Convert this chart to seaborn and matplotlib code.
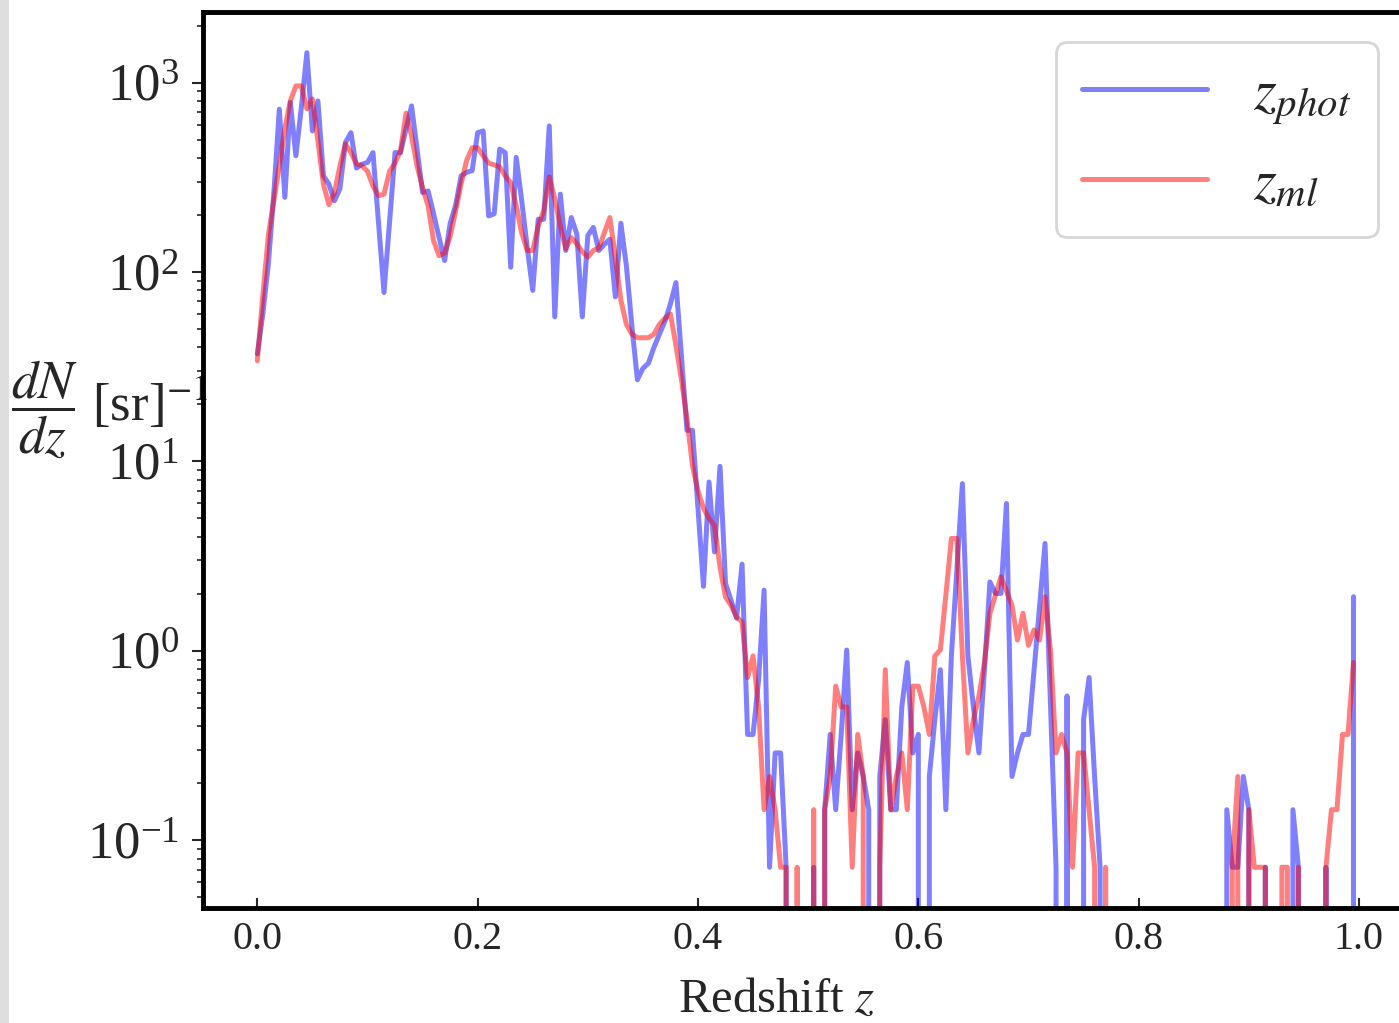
import numpy as np
import pandas as pd
import matplotlib
matplotlib.use("Agg")
import matplotlib.pyplot as plt
from matplotlib.patches import Rectangle
import seaborn as sns

# Bin positions (left edges of 0.005-wide redshift bins)
redshift_bins = [round(0.005 * i, 3) for i in range(200)]

# dN/dz [sr^-1] for the photometric redshifts
dndz_phot = [
    37, 60, 110, 260, 724, 248, 785, 411, 741, 1439,
    556, 801, 322, 291, 238, 275, 483, 544, 354, 371,
    379, 427, 182, 78, 182, 427, 427, 570, 754, 446,
    263, 268, 203, 152, 115, 180, 225, 322, 336, 343,
    544, 556, 198, 203, 446, 427, 106, 403, 238, 135,
    80, 190, 190, 591, 58, 258, 130, 194, 159, 58,
    156, 172, 130, 140, 149, 74, 181, 108, 52, 27,
    31, 33, 40, 47, 55, 68, 88, 36, 14.6, 14.6,
    5.66, 2.19, 7.79, 3.33, 9.42, 2.27, 1.85, 1.49, 2.87, 0.362,
    0.362, 0.70, 2.09, 0.072, 0.289, 0.289, 0.072, 0, 0, 0,
    0, 0.072, 0, 0.145, 0.362, 0.145, 0.362, 1.01, 0.145, 0.289,
    0.217, 0.145, 0, 0.217, 0.434, 0.145, 0.145, 0.506, 0.868, 0.289,
    0.362, 0, 0.217, 0.434, 0.795, 0.145, 0.94, 2.66, 7.64, 0.94,
    0.506, 0.289, 0.795, 2.31, 2.01, 2.01, 6.0, 0.217, 0.289, 0.362,
    0.362, 0.78, 1.70, 3.69, 0.506, 0.072, 0, 0.578, 0, 0,
    0.434, 0.723, 0.217, 0.072, 0, 0, 0, 0, 0, 0,
    0, 0, 0, 0, 0, 0, 0, 0, 0, 0,
    0, 0, 0, 0, 0, 0, 0.145, 0.072, 0.072, 0.217,
    0.145, 0, 0, 0.072, 0, 0, 0, 0, 0.145, 0.072,
    0, 0, 0, 0, 0.072, 0, 0, 0, 0, 1.93,
]

# dN/dz [sr^-1] for the machine-learning redshifts
dndz_ml = [
    34, 75, 156, 238, 364, 570, 801, 961, 961, 727,
    820, 492, 291, 227, 262, 364, 474, 427, 372, 364,
    340, 285, 253, 258, 340, 377, 436, 690, 523, 364,
    279, 224, 146, 122, 126, 154, 210, 292, 388, 453,
    453, 411, 376, 368, 359, 322, 297, 224, 161, 130,
    130, 175, 211, 318, 244, 175, 133, 152, 141, 128,
    120, 130, 134, 161, 194, 120, 71, 53, 47, 45,
    45, 45, 47, 53, 57, 60, 41, 27, 16.8, 9.5,
    7.0, 5.66, 5.0, 4.6, 2.77, 1.92, 1.74, 1.51, 1.42, 0.723,
    0.94, 0.506, 0.145, 0.217, 0.145, 0.072, 0.072, 0, 0.072, 0,
    0, 0.145, 0, 0.145, 0.217, 0.651, 0.506, 0.506, 0.072, 0.362,
    0.217, 0, 0, 0.072, 0.795, 0.145, 0.217, 0.289, 0.145, 0.651,
    0.651, 0.506, 0.362, 0.94, 1.012, 1.97, 3.92, 3.92, 0.94, 0.289,
    0.434, 0.578, 0.868, 1.58, 1.97, 2.46, 2.07, 1.74, 1.14, 1.58,
    1.07, 1.29, 1.14, 1.93, 1.0, 0.289, 0.362, 0.289, 0.072, 0.289,
    0.289, 0.145, 0.072, 0, 0.072, 0, 0, 0, 0, 0,
    0, 0, 0, 0, 0, 0, 0, 0, 0, 0,
    0, 0, 0, 0, 0, 0, 0, 0.072, 0.217, 0,
    0.145, 0.072, 0.072, 0.072, 0, 0, 0.072, 0.072, 0, 0.072,
    0, 0, 0, 0, 0.072, 0.145, 0.145, 0.362, 0.362, 0.868,
]

series_labels = [r"$z_{phot}$", r"$z_{ml}$"]
x_ticks = [0.0, 0.2, 0.4, 0.6, 0.8, 1.0]
x_tick_labels = ["0.0", "0.2", "0.4", "0.6", "0.8", "1.0"]
x_label = r"Redshift $z$"
y_label = r"$\dfrac{dN}{dz}$ [sr]$^{-1}$"

sns.set_style("ticks")
plt.rcParams["font.family"] = ["Liberation Serif", "DejaVu Serif"]
plt.rcParams["mathtext.fontset"] = "stix"

fig = plt.figure(figsize=(13.99, 10.23), dpi=100)
W, H = 1399.0, 1023.0
# light paper-like strip at the far left edge
fig.patches.append(Rectangle((0, 0), 9 / W, 1, transform=fig.transFigure,
                             facecolor="#dedede", edgecolor="none", zorder=0))
ax = fig.add_axes([202.5 / W, (H - 907.5) / H, 1205.8 / W, 895.5 / H])

df = pd.DataFrame({"z": redshift_bins, "phot": dndz_phot, "ml": dndz_ml})
sns.lineplot(data=df, x="z", y="phot", ax=ax, color="blue", alpha=0.5,
             lw=3.6, label=series_labels[0], estimator=None)
sns.lineplot(data=df, x="z", y="ml", ax=ax, color="red", alpha=0.5,
             lw=3.6, label=series_labels[1], estimator=None)

ax.set_yscale("log")
ax.set_ylim(10 ** -1.355, 10 ** 3.373)
ax.set_xlim(-0.04975, 1.04475)
ax.set_xticks(x_ticks)
ax.set_xticklabels(x_tick_labels)

for s in ax.spines.values():
    s.set_linewidth(3.5)
    s.set_color("black")

ax.tick_params(axis="x", direction="in", length=7, width=1.5, labelsize=29, pad=10)
ax.tick_params(axis="y", which="major", direction="out", length=8, width=1.5,
               labelsize=38, pad=9)
ax.tick_params(axis="y", which="minor", direction="out", length=4, width=1.2)

ax.set_xlabel(x_label, fontsize=35)
ax.xaxis.set_label_coords(0.476, -0.079)
ax.set_ylabel(y_label, fontsize=38, rotation=0, ha="center", va="bottom")
ax.yaxis.set_label_coords(-0.077, 0.5)

leg = ax.legend(loc="upper right", bbox_to_anchor=(0.9749, 0.9665),
                borderaxespad=0, fontsize=42, handlelength=2.14,
                handletextpad=0.8, labelspacing=0.54, borderpad=0.45,
                fancybox=True, frameon=True)
leg.get_frame().set_edgecolor("0.8")
leg.get_frame().set_linewidth(2.0)

fig.savefig("out.png", dpi=100)
